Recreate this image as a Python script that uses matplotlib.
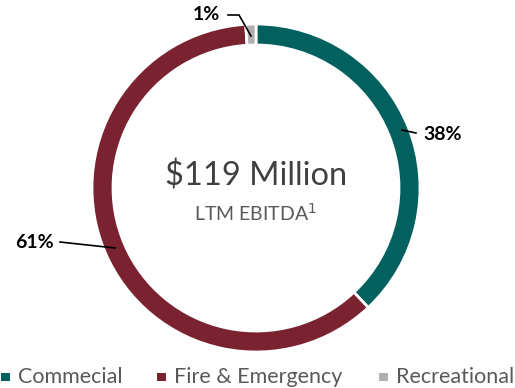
import matplotlib.pyplot as plt
from matplotlib.patches import Rectangle

# EBITDA split by segment
segments = ['Commecial', 'Fire & Emergency', 'Recreational']
shares = [38, 61, 1]
colors = ['#02605F', '#7B2230', '#B3AFAE']

plt.rcParams['font.family'] = ['Lato', 'DejaVu Sans']

fig = plt.figure(figsize=(5.15, 3.88), dpi=100)
ax = fig.add_axes([0, 0, 1, 1])

cx, cy, r = 256, 200, 164
wedges, _ = ax.pie(shares, colors=colors, startangle=90, counterclock=False,
                   center=(cx, cy), radius=r, frame=True,
                   wedgeprops=dict(width=21, edgecolor='white', linewidth=2))
ax.set_xlim(0, 515)
ax.set_ylim(0, 388)
ax.axis('off')

# centre text
ax.text(cx, 212, '$119 Million', ha='center', va='center', fontsize=23.5, color='#404040')
ax.text(cx, 175, 'LTM EBITDA$^1$', ha='center', va='center', fontsize=14, color='#595959')

# percent labels with leader lines
lab = dict(fontsize=14, fontweight='bold', color='black', va='center')
ax.plot([402, 416], [258, 255], color='black', lw=1.2)
ax.text(423, 254, f'{shares[0]}%', ha='left', **lab)
ax.plot([60, 115], [146, 140], color='black', lw=1.2)
ax.text(54, 145, f'{shares[1]}%', ha='right', **lab)
ax.plot([228, 239, 251], [373, 373, 352], color='black', lw=1.2)
ax.text(220, 374, f'{shares[2]}%', ha='right', **lab)

# legend row along the bottom
legend_x = [1, 157, 379]
for x, name, c in zip(legend_x, segments, colors):
    ax.add_patch(Rectangle((x, 7), 8.5, 8.5, facecolor=c, edgecolor='none'))
    ax.text(x + 17, 11, name, ha='left', va='center', fontsize=15.5, color='#595959')

fig.savefig('out.png', dpi=100)
